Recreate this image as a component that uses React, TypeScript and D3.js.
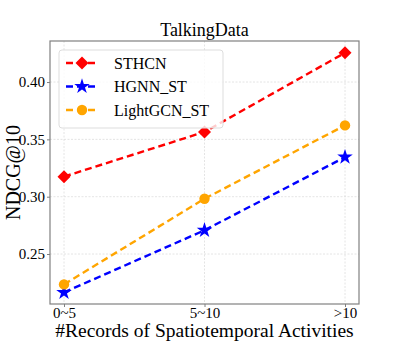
import React, { useRef, useEffect } from "react";
import * as d3 from "d3";

const categories = ["0~5", "5~10", ">10"];
const sthcn = [0.3175, 0.3565, 0.4255];
const hgnnSt = [0.2165, 0.2707, 0.3345];
const lightgcnSt = [0.2235, 0.2982, 0.3622];
const yTicks = [0.25, 0.3, 0.35, 0.4];

const series = [
  { name: "STHCN", values: sthcn, color: "#ff0000", marker: "diamond" },
  { name: "HGNN_ST", values: hgnnSt, color: "#0000ff", marker: "star" },
  { name: "LightGCN_ST", values: lightgcnSt, color: "#ffa500", marker: "circle" },
];

const FONT = "Liberation Serif, Times New Roman, Times, DejaVu Serif, serif";

const markerPath = (m: string) => {
  if (m === "diamond") return "M0,-6.5L6.5,0L0,6.5L-6.5,0Z";
  if (m === "star") return d3.symbol(d3.symbolStar, 75)()!;
  return d3.symbol(d3.symbolCircle, 85)()!;
};

const App = () => {
  const svgRef = useRef<SVGSVGElement>(null);

  useEffect(() => {
    const svg = d3.select(svgRef.current);
    svg.selectAll("*").remove();

    const left = 50, right = 359, top = 41, bottom = 304;

    const x = d3.scalePoint().domain(categories).range([64, 345]);
    const y = d3.scaleLinear().domain([0.2064, 0.4358]).range([bottom, top]);

    const g = svg.append("g");

    // grid
    g.selectAll(".gx")
      .data(categories)
      .enter()
      .append("line")
      .attr("x1", (d) => x(d)!)
      .attr("x2", (d) => x(d)!)
      .attr("y1", top)
      .attr("y2", bottom)
      .attr("stroke", "#dddddd")
      .attr("stroke-width", 0.8)
      .attr("stroke-dasharray", "2,1.5");
    g.selectAll(".gy")
      .data(yTicks)
      .enter()
      .append("line")
      .attr("x1", left)
      .attr("x2", right)
      .attr("y1", (d) => y(d))
      .attr("y2", (d) => y(d))
      .attr("stroke", "#dddddd")
      .attr("stroke-width", 0.8)
      .attr("stroke-dasharray", "2,1.5");

    // frame
    g.append("rect")
      .attr("x", left)
      .attr("y", top)
      .attr("width", right - left)
      .attr("height", bottom - top)
      .attr("fill", "none")
      .attr("stroke", "#808080")
      .attr("stroke-width", 1.2);

    // axes
    const xAxis = g
      .append("g")
      .attr("transform", `translate(0,${bottom})`)
      .call(d3.axisBottom(x).tickSize(3).tickPadding(0));
    const yAxis = g
      .append("g")
      .attr("transform", `translate(${left},0)`)
      .call(
        d3.axisLeft(y).tickValues(yTicks).tickFormat(d3.format(".2f")).tickSize(3).tickPadding(2)
      );
    [xAxis, yAxis].forEach((a) => {
      a.attr("font-family", null).attr("font-size", null);
      a.select(".domain").remove();
      a.selectAll("line").attr("stroke", "#808080");
      a.selectAll("text")
        .style("font-family", FONT)
        .style("font-size", "15px")
        .attr("fill", "#000");
    });

    const line = d3
      .line<number>()
      .x((d, i) => x(categories[i])!)
      .y((d) => y(d));

    series.forEach((s) => {
      g.append("path")
        .datum(s.values)
        .attr("d", line)
        .attr("fill", "none")
        .attr("stroke", s.color)
        .attr("stroke-width", 2.4)
        .attr("stroke-dasharray", "7,4");
      g.selectAll(null)
        .data(s.values)
        .enter()
        .append("path")
        .attr("d", markerPath(s.marker))
        .attr("transform", (d, i) => `translate(${x(categories[i])},${y(d)})`)
        .attr("fill", s.color);
    });

    // legend
    const lg = g.append("g");
    lg.append("rect")
      .attr("x", 59)
      .attr("y", 50)
      .attr("width", 164)
      .attr("height", 78)
      .attr("rx", 3)
      .attr("fill", "#fff")
      .attr("fill-opacity", 0.8)
      .attr("stroke", "#dddddd");
    series.forEach((s, i) => {
      const ly = 63 + i * 23.5;
      lg.append("line")
        .attr("x1", 66)
        .attr("x2", 98)
        .attr("y1", ly)
        .attr("y2", ly)
        .attr("stroke", s.color)
        .attr("stroke-width", 2.4)
        .attr("stroke-dasharray", "7,4");
      lg.append("path")
        .attr("d", markerPath(s.marker))
        .attr("transform", `translate(82,${ly})`)
        .attr("fill", s.color);
      lg.append("text")
        .attr("x", 114)
        .attr("y", ly)
        .attr("dy", "0.35em")
        .style("font-family", FONT)
        .style("font-size", "16px")
        .text(s.name);
    });

    // title & labels
    svg.append("text")
      .attr("x", (left + right) / 2)
      .attr("y", 36)
      .attr("text-anchor", "middle")
      .style("font-family", FONT)
      .style("font-size", "18px")
      .text("TalkingData");
    svg.append("text")
      .attr("x", (left + right) / 2)
      .attr("y", 337)
      .attr("text-anchor", "middle")
      .style("font-family", FONT)
      .style("font-size", "19.5px")
      .text("#Records of Spatiotemporal Activities");
    svg.append("text")
      .attr("transform", `translate(20,${(top + bottom) / 2}) rotate(-90)`)
      .attr("text-anchor", "middle")
      .style("font-family", FONT)
      .style("font-size", "20px")
      .text("NDCG@10");
  }, []);

  return (
    <svg
      ref={svgRef}
      width={399}
      height={342}
      style={{ position: "absolute", left: 0, top: 0, background: "#fff" }}
    />
  );
};

export default App;
